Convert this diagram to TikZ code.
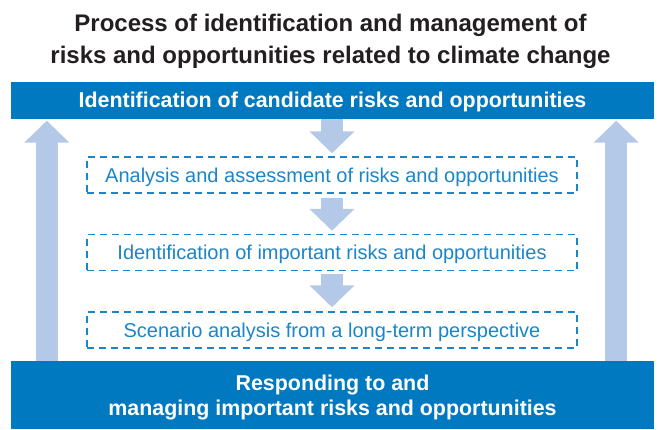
\documentclass[tikz,border=0pt]{standalone}
\usepackage{fontspec}
\setmainfont{Liberation Sans}
\usetikzlibrary{arrows.meta, positioning}
\definecolor{barblue}{RGB}{0,121,193}
\definecolor{stageblue}{RGB}{26,133,200}
\definecolor{flowblue}{RGB}{180,200,232}
\definecolor{titlegray}{RGB}{35,31,32}

\begin{document}
\begin{tikzpicture}[x=1pt, y=-1pt,
    bar/.style={fill=barblue, text=white, minimum width=643pt, inner sep=0pt,
                align=center, text depth=0pt,
                font=\bfseries\fontsize{21.4}{25}\selectfont},
    stage/.style={draw=stageblue, line width=1.5pt, dash pattern=on 7pt off 5pt,
                  text=stageblue, minimum width=490pt, minimum height=36pt,
                  inner sep=0pt, text depth=0pt, font=\fontsize{20}{22}\selectfont},
    flow/.style={draw=flowblue, line width=22pt,
                 -{Triangle[length=22pt, width=44pt]}}
  ]
  \useasboundingbox (0,0) rectangle (661,429);

  % Title
  \node[align=center, text=titlegray, font=\bfseries\fontsize{24}{32}\selectfont]
        (title) at (330.5,41)
        {Process of identification and management of\\risks and opportunities related to climate change};

  % Bars
  \node[bar, minimum height=37pt] (ident) at (332.5,100)
        {Identification of candidate risks and opportunities};
  \node[bar, minimum height=68pt] (respond) at (332.5,395)
        {Responding to and\\managing important risks and opportunities};

  % Stages
  \node[stage] (analysis) at (332,175)
        {Analysis and assessment of risks and opportunities};
  \node[stage, below=40pt of analysis] (important)
        {Identification of important risks and opportunities};
  \node[stage, below=40pt of important] (scenario)
        {Scenario analysis from a long-term perspective};

  % Arrows: down the stages
  \draw[flow, shorten >=3pt] (ident.south -| analysis) -- (analysis.north);
  \draw[flow, shorten <=4pt, shorten >=3pt] (analysis.south) -- (important.north);
  \draw[flow, shorten <=3pt, shorten >=4pt] (important.south) -- (scenario.north);

  % Arrows: back up to the top bar
  \draw[flow, shorten >=2pt] ([xshift=36pt]respond.north west) -- ([xshift=36pt]ident.south west);
  \draw[flow, shorten >=2pt] ([xshift=-38pt]respond.north east) -- ([xshift=-38pt]ident.south east);
\end{tikzpicture}
\end{document}
